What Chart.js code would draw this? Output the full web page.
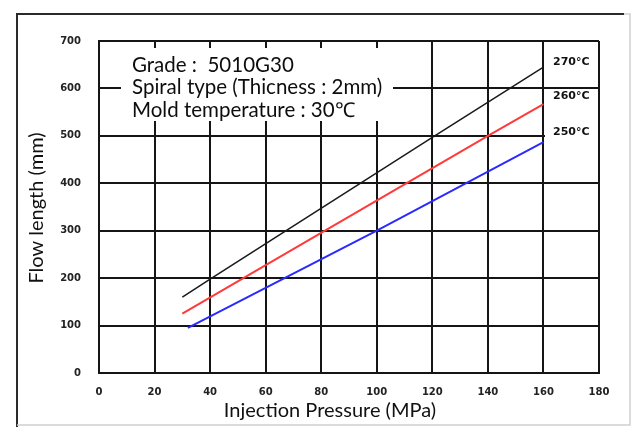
<!DOCTYPE html>
<html>
<head>
<meta charset="utf-8">
<script src="https://cdn.jsdelivr.net/npm/chart.js@4.4.1/dist/chart.umd.min.js"></script>
<style>
  html, body { margin: 0; padding: 0; background: #fff; }
  #wrap { width: 633px; height: 427px; position: relative; }
</style>
</head>
<body>
<div id="wrap"><canvas id="c" width="633" height="427"></canvas></div>
<script>
// ---- data ----
const seriesNames = ['270°C', '260°C', '250°C'];
const pressure270 = [30, 40, 120, 160];
const flow270     = [160, 198, 497, 645];
const pressure260 = [30, 140, 160];
const flow260     = [125, 500, 567];
const pressure250 = [32, 100, 160];
const flow250     = [95, 300, 487];
const xTicks = [0, 20, 40, 60, 80, 100, 120, 140, 160, 180];
const yTicks = [0, 100, 200, 300, 400, 500, 600, 700];
const noteLines = ['Grade :  5010G30', 'Spiral type (Thicness : 2mm)', 'Mold temperature : 30℃'];
const xTitle = 'Injection Pressure (MPa)';
const yTitle = 'Flow length (mm)';

const pts = (xs, ys) => xs.map((x, i) => ({ x, y: ys[i] }));

const annot = {
  id: 'annot',
  beforeDraw(chart) {
    const ctx = chart.ctx;
    ctx.save();
    ctx.fillStyle = '#fff';
    ctx.fillRect(0, 0, chart.width, chart.height);
    ctx.restore();
  },
  afterDraw(chart) {
    const ctx = chart.ctx;
    const a = chart.chartArea;
    ctx.save();
    // outer frame
    ctx.strokeStyle = '#2a2a2a';
    ctx.lineWidth = 2;
    ctx.beginPath();
    ctx.moveTo(17, 427); ctx.lineTo(17, 14); ctx.lineTo(624, 14);
    ctx.stroke();
    ctx.strokeStyle = '#d0d0d0';
    ctx.lineWidth = 1.5;
    ctx.beginPath();
    ctx.moveTo(624, 14); ctx.lineTo(630, 14); ctx.lineTo(630, 425); ctx.lineTo(17, 425);
    ctx.stroke();

    // note box
    ctx.fillStyle = '#fff';
    ctx.fillRect(121, 48, 272, 73);
    ctx.fillStyle = '#0d0d0d';
    ctx.font = '20.5px Lato';
    ctx.textAlign = 'left';
    ctx.textBaseline = 'middle';
    noteLines.forEach((t, i) => ctx.fillText(t, 132, 65 + i * 22.5));

    // series labels at right
    const labelY = [62, 96, 132];
    ctx.font = 'bold 11px "DejaVu Sans"';
    seriesNames.forEach((t, i) => {
      ctx.fillStyle = '#fff';
      ctx.fillRect(545, labelY[i] - 7, a.right - 546, 14);
      ctx.fillStyle = '#111';
      ctx.fillText(t, 553, labelY[i]);
    });

    // axis titles
    ctx.font = '20px Lato';
    ctx.textAlign = 'center';
    ctx.fillText(xTitle, 330, 411);
    ctx.translate(37, 208);
    ctx.rotate(-Math.PI / 2);
    ctx.fillText(yTitle, 0, 0);
    ctx.restore();
  }
};

new Chart(document.getElementById('c'), {
  type: 'scatter',
  data: {
    datasets: [
      { label: seriesNames[0], data: pts(pressure270, flow270), showLine: true, borderColor: '#1a1a1a', borderWidth: 1.5, pointRadius: 0 },
      { label: seriesNames[1], data: pts(pressure260, flow260), showLine: true, borderColor: '#ff3a3a', borderWidth: 2, pointRadius: 0 },
      { label: seriesNames[2], data: pts(pressure250, flow250), showLine: true, borderColor: '#2a2aff', borderWidth: 2, pointRadius: 0 }
    ]
  },
  options: {
    responsive: false,
    animation: false,
    layout: { padding: { left: 0, top: 41, right: 34, bottom: 0 } },
    plugins: { legend: { display: false }, tooltip: { enabled: false } },
    scales: {
      x: {
        type: 'linear', min: xTicks[0], max: xTicks[xTicks.length-1],
        afterBuildTicks: s => { s.ticks = xTicks.map(v => ({ value: v })); },
        afterFit: s => { s.height = 54; },
        grid: { color: '#151515', lineWidth: 2, drawTicks: false },
        border: { color: '#151515', width: 2 },
        ticks: { padding: 13, color: '#222', font: { family: 'DejaVu Sans', size: 10, weight: 'bold' }, maxRotation: 0 }
      },
      y: {
        type: 'linear', min: yTicks[0], max: yTicks[yTicks.length-1],
        afterBuildTicks: s => { s.ticks = yTicks.map(v => ({ value: v })); },
        afterFit: s => { s.width = 99; },
        grid: { color: '#151515', lineWidth: 2, drawTicks: false },
        border: { color: '#151515', width: 2 },
        ticks: { padding: 18, color: '#222', font: { family: 'DejaVu Sans', size: 10, weight: 'bold' } }
      }
    }
  },
  plugins: [annot]
});
</script>
</body>
</html>
